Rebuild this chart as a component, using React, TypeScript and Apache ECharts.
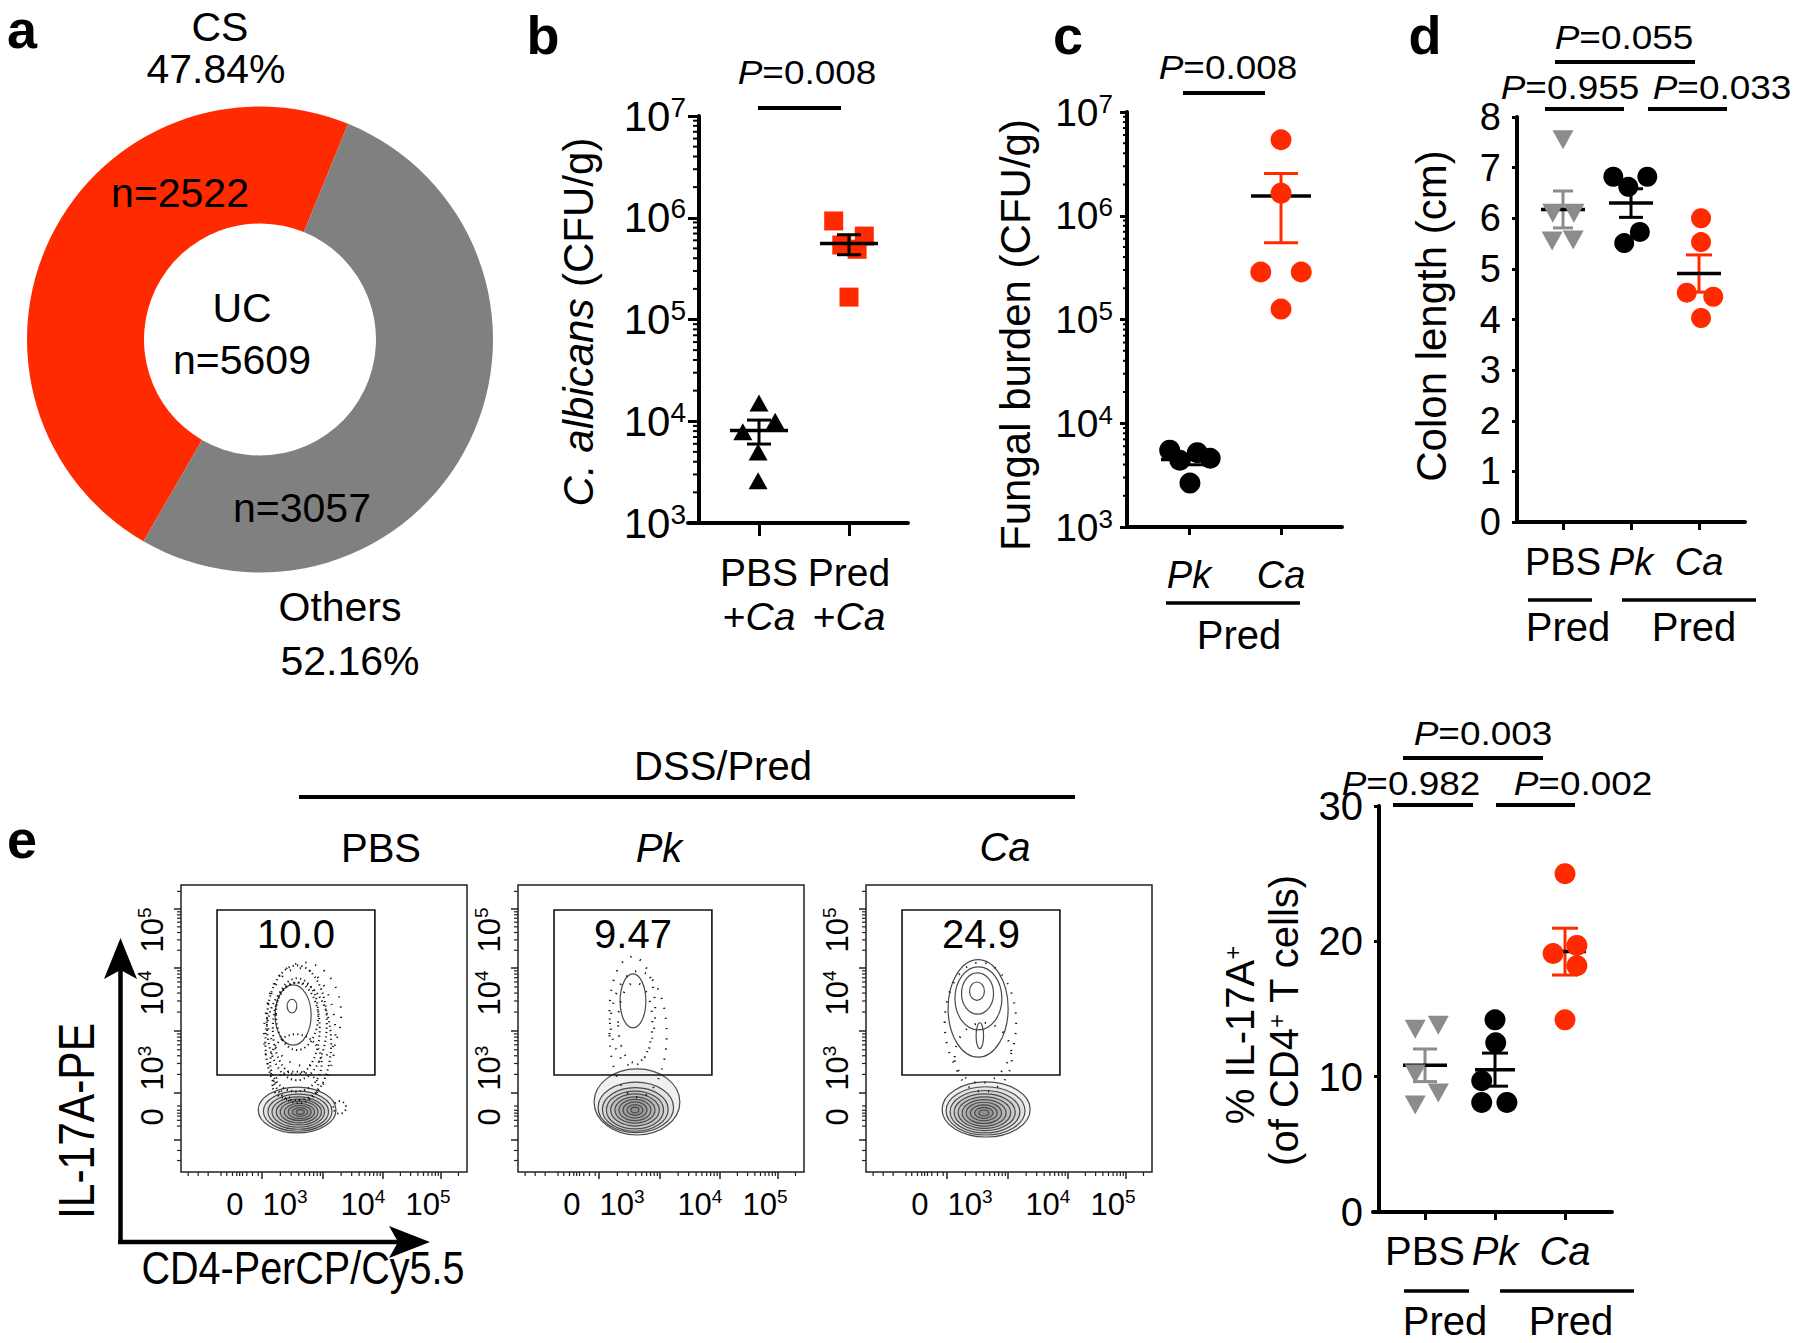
import React, { useEffect, useRef } from 'react';
import * as echarts from 'echarts';

const RED = '#ff2a00';
const PIE_GREY = '#808080';
const PT_GREY = '#8c8c8c';
const FONT = "'Liberation Sans', Arial, Helvetica, sans-serif";

// ---------- Panel a ----------
const donutNames = ['CS', 'Others'];
const donutPercent = [47.84, 52.16];
const donutCount = [2522, 3057];
const donutCenterName = 'UC';
const donutTotal = 5609;

// ---------- Panel b ----------
const bCategories = ['PBS', 'Pred'];
const bPBS = [15100, 10000, 7900, 5000, 2600];
const bPred = [930000, 660000, 540000, 490000, 166000];
const bJitterPBS = [0, 0.18, -0.18, -0.01, -0.01];
const bJitterPred = [-0.17, 0.17, -0.08, 0.09, 0];
const bP = ['0.008'];

// ---------- Panel c ----------
const cCategories = ['Pk', 'Ca'];
const cPk = [5500, 5200, 4600, 4400, 2650];
const cCa = [5400000, 1650000, 287000, 287000, 126000];
const cJitterPk = [-0.21, 0.09, 0.23, -0.1, 0.01];
const cJitterCa = [0, 0, -0.22, 0.22, 0];
const cP = ['0.008'];

// ---------- Panel d ----------
const dCategories = ['PBS', 'Pk', 'Ca'];
const dPBS = [7.55, 6.1, 6.1, 5.55, 5.57];
const dPk = [6.82, 6.82, 6.62, 5.73, 5.51];
const dCa = [6.0, 5.53, 4.53, 4.45, 4.03];
const dJitterPBS = [0, -0.15, 0.16, -0.16, 0.15];
const dJitterPk = [-0.26, 0.24, -0.04, 0.13, -0.1];
const dJitterCa = [0.03, 0.03, -0.18, 0.21, 0.03];
const dP = ['0.955', '0.033', '0.055']; // PBS vs Pk, Pk vs Ca, PBS vs Ca

// ---------- Panel e (summary) ----------
const eCategories = ['PBS', 'Pk', 'Ca'];
const ePBS = [13.5, 13.8, 10.2, 8.8, 7.9];
const ePk = [14.2, 12.5, 9.7, 8.1, 8.1];
const eCa = [25.0, 19.1, 19.7, 18.2, 14.2];
const eJitterPBS = [-0.14, 0.19, -0.14, 0.19, -0.14];
const eJitterPk = [0, 0.01, -0.19, -0.19, 0.17];
const eJitterCa = [0, -0.17, 0.17, 0.17, 0];
const eP = ['0.982', '0.002', '0.003'];

// ---------- Panel e (flow plots, display units 0-100) ----------
const flowSamples = ['PBS', 'Pk', 'Ca'];
const flowGatePercent = ['10.0', '9.47', '24.9'];
const flowGate = [12.6, 33.8, 67.8, 91.3]; // x1, y1, x2, y2
const flowTickLabels = ['0', '10^3', '10^4', '10^5'];
const flowXLabelAt = [18.8, 36.4, 63.6, 86.4];
const flowYLabelAt = [19.2, 36.2, 62.4, 84.3];
const flowXMajor = [28.3, 49.7, 70.6, 90.9];
const flowYMajor = [11.1, 27.5, 49.1, 71.1, 91.6];
// contour levels: cx, cy, rx, ry, kind (0 contour, 1 dense dots, 2 sparse dots, 3 shaded contour)
const flowContoursPBS = [
  [40.6, 21.6, 13.6, 8.0, 3], [40.8, 21.2, 12.0, 7.0, 3], [41.0, 21.0, 10.6, 6.1, 3],
  [41.0, 20.9, 9.2, 5.3, 3], [41.2, 20.9, 7.9, 4.5, 3], [41.3, 20.9, 6.6, 3.8, 3],
  [41.4, 20.9, 5.3, 3.0, 3], [41.5, 20.9, 4.0, 2.3, 3], [41.6, 20.9, 2.7, 1.5, 3],
  [41.7, 20.9, 1.4, 0.8, 3],
  [39.2, 54.7, 6.3, 10.5, 0], [38.8, 57.8, 1.7, 2.4, 0],
  [40.5, 52, 10.5, 20, 1], [40.3, 50, 8.2, 16, 1], [40.2, 38, 9.0, 10, 1],
  [41.0, 45, 11.5, 21, 1], [40.0, 30, 8, 5, 1], [40.6, 55, 7.4, 12.5, 1],
  [41.5, 48, 12.5, 23, 2], [43.0, 55, 13, 18, 2], [55.5, 22.5, 2.2, 2.2, 1],
];
const flowContoursPk = [
  [41.6, 24.4, 15.0, 11.5, 3], [41.2, 22.5, 13.2, 8.8, 3], [41.0, 21.8, 11.5, 7.6, 3],
  [40.9, 21.6, 10.0, 6.6, 3], [40.9, 21.6, 8.5, 5.6, 3], [40.9, 21.6, 7.0, 4.6, 3],
  [40.9, 21.6, 5.6, 3.7, 3], [40.9, 21.6, 4.2, 2.8, 3], [40.9, 21.6, 2.8, 1.9, 3],
  [40.9, 21.6, 1.4, 1.0, 3],
  [40.2, 59.6, 4.5, 9.4, 0],
  [40.0, 56, 8, 19, 2], [41.0, 52, 6, 14, 2], [42.0, 48, 10, 22, 2],
];
const flowContoursCa = [
  [42.0, 21.8, 15.4, 9.6, 3], [41.8, 21.3, 13.8, 8.4, 3], [41.6, 21.0, 12.2, 7.4, 3],
  [41.5, 20.8, 10.7, 6.4, 3], [41.4, 20.7, 9.2, 5.5, 3], [41.3, 20.6, 7.7, 4.6, 3],
  [41.2, 20.6, 6.2, 3.7, 3], [41.2, 20.6, 4.7, 2.8, 3], [41.2, 20.6, 3.2, 1.9, 3],
  [41.2, 20.6, 1.7, 1.0, 3],
  [39.2, 57.0, 10.5, 17, 0], [39.3, 60.5, 8.2, 11, 0], [39.0, 62.2, 5.6, 7.2, 0],
  [38.8, 63.0, 2.6, 3.2, 0], [39.8, 47.5, 1.3, 4.5, 0],
  [40.0, 52, 12.5, 21, 2], [41.0, 40, 10, 12, 2],
];
const flowContours = [flowContoursPBS, flowContoursPk, flowContoursCa];

// ---------- helpers ----------
const LOG_M = [2, 3, 4, 5, 6, 7, 8, 9];
const logMinor = (start: number, width: number) => LOG_M.map((m) => start + width * Math.log10(m));
const decadeMinor = [3, 4, 5, 6].flatMap((k) => LOG_M.map((m) => m * Math.pow(10, k)));
const flowXMinor = [
  2.5, 6, 9.5, 14, 16, 18, 19.5, 20.5, 21.5, 23, 25, 27,
  ...logMinor(28.3, 21.4), ...logMinor(49.7, 20.9), ...logMinor(70.6, 20.3), ...logMinor(90.9, 20.3),
].filter((v) => v >= 0 && v <= 100);
const flowYMinor = [
  4, 7.5, 16, 18, 19.5, 20.5, 21.5, 23,
  ...logMinor(27.5, 21.6), ...logMinor(49.1, 22), ...logMinor(71.1, 20.5), ...logMinor(91.6, 20.5),
].filter((v) => v >= 0 && v <= 100);

function stats(v: number[]) {
  const n = v.length;
  const mean = v.reduce((a, b) => a + b, 0) / n;
  const sd = Math.sqrt(v.reduce((a, b) => a + (b - mean) ** 2, 0) / (n - 1));
  return { mean, sem: sd / Math.sqrt(n) };
}

const supRich = (fs: number, sfs: number) => ({
  b: { fontSize: fs, lineHeight: fs + 4, fontFamily: FONT, color: '#000' },
  s: { fontSize: sfs, lineHeight: sfs, verticalAlign: 'top', fontFamily: FONT, color: '#000' },
});
const catRich = (fs: number, lh: number) => ({
  n: { fontSize: fs, lineHeight: lh, fontFamily: FONT, color: '#000' },
  i: { fontSize: fs, lineHeight: lh, fontFamily: FONT, fontStyle: 'italic', color: '#000' },
});
const logLabel = (v: number) => `{b|10}{s|${Math.round(Math.log10(v))}}`;
const italicNames = ['Pk', 'Ca'];
const catToken = (name: string) => (italicNames.includes(name) ? `{i|${name}}` : `{n|${name}}`);

function catX(gi: number, min: number, max: number, labels: string[], margin: number, fs: number, lh: number, tickLen: number) {
  const vals = labels.map((_, i) => i + 1);
  return {
    gridIndex: gi, type: 'value', min, max,
    axisLine: { show: true, onZero: false, lineStyle: { color: '#000', width: 4 } },
    axisTick: { show: true, customValues: vals, length: tickLen, lineStyle: { color: '#000', width: 3 } },
    axisLabel: {
      show: true, customValues: vals, margin, color: '#000',
      formatter: (v: number) => labels[Math.round(v) - 1] ?? '',
      rich: catRich(fs, lh),
    },
    splitLine: { show: false },
  };
}

type Grp = { x: number; vals: number[]; bar: string; meanHalf: number; capHalf: number };
function errorSeries(ax: number, grps: Grp[], z: number) {
  return {
    type: 'custom', xAxisIndex: ax, yAxisIndex: ax, z, silent: true, clip: false,
    data: grps.map((g) => { const s = stats(g.vals); return [g.x, s.mean, s.sem]; }),
    renderItem: (params: any, api: any) => {
      const g = grps[params.dataIndex];
      const x = api.value(0), m = api.value(1), s = api.value(2);
      const pm = api.coord([x, m]);
      const pu = api.coord([x, m + s]);
      const pl = api.coord([x, m - s]);
      const ln = (x1: number, y1: number, x2: number, y2: number, c: string, w: number) =>
        ({ type: 'line', shape: { x1, y1, x2, y2 }, style: { stroke: c, lineWidth: w } });
      return {
        type: 'group',
        children: [
          ln(pm[0], pu[1], pm[0], pl[1], g.bar, 3),
          ln(pm[0] - g.capHalf, pu[1], pm[0] + g.capHalf, pu[1], g.bar, 3),
          ln(pm[0] - g.capHalf, pl[1], pm[0] + g.capHalf, pl[1], g.bar, 3),
          ln(pm[0] - g.meanHalf, pm[1], pm[0] + g.meanHalf, pm[1], '#000', 3.5),
        ],
      };
    },
  };
}

function dots(ax: number, x: number, vals: number[], jit: number[], symbol: string, size: any, color: string, rotate = 0, z = 2) {
  return {
    type: 'scatter', xAxisIndex: ax, yAxisIndex: ax, z, silent: true,
    symbol, symbolSize: size, symbolRotate: rotate,
    itemStyle: { color, opacity: 1 },
    data: vals.map((v, i) => [x + jit[i], v]),
  };
}

function tickSeries(ax: number, pts: number[][], dir: 'left' | 'down', len: number, width: number, color = '#000') {
  return {
    type: 'custom', xAxisIndex: ax, yAxisIndex: ax, silent: true, clip: false, z: 5,
    data: pts,
    renderItem: (params: any, api: any) => {
      const p = api.coord([api.value(0), api.value(1)]);
      const shape = dir === 'left'
        ? { x1: p[0] - len, y1: p[1], x2: p[0], y2: p[1] }
        : { x1: p[0], y1: p[1], x2: p[0], y2: p[1] + len };
      return { type: 'line', shape, style: { stroke: color, lineWidth: width } };
    },
  };
}

const flowLabel = (positions: number[]) => (v: number) => {
  let best = 0;
  positions.forEach((p, i) => { if (Math.abs(p - v) < Math.abs(positions[best] - v)) best = i; });
  const lab = flowTickLabels[best];
  if (lab.includes('^')) { const [b, e] = lab.split('^'); return `{b|${b}}{s|${e}}`; }
  return `{b|${lab}}`;
};

// graphic helpers
const txt = (x: number, y: number, text: string, fontSize: number, extra: any = {}) => ({
  type: 'text', x, y, silent: true, z: 50,
  rotation: extra.rotation || 0, scaleX: extra.scaleX || 1, scaleY: extra.scaleY || 1,
  style: {
    text, fontSize, fontFamily: FONT, fill: '#000', align: 'center', verticalAlign: 'middle',
    fontWeight: extra.fontWeight || 'normal', fontStyle: extra.fontStyle || 'normal',
    rich: extra.rich,
  },
});
const richNI = (fs: number) => ({
  n: { fontSize: fs, fontFamily: FONT, fill: '#000' },
  i: { fontSize: fs, fontFamily: FONT, fontStyle: 'italic', fill: '#000' },
  s: { fontSize: Math.round(fs * 0.6), fontFamily: FONT, fill: '#000', verticalAlign: 'top', lineHeight: Math.round(fs * 0.6) },
});
const pText = (x: number, y: number, val: string) =>
  txt(x, y, `{i|P}{n|=${val}}`, 33, { rich: richNI(33), scaleX: 1.12 });
const hline = (x1: number, x2: number, y: number, w = 4) => ({
  type: 'line', silent: true, z: 50, shape: { x1, y1: y, x2, y2: y }, style: { stroke: '#000', lineWidth: w },
});

function buildOption(): any {
  const flowLefts = [181, 518, 866];
  const grid: any[] = [
    { left: 688, top: 116, width: 220, height: 407 },
    { left: 1127, top: 112, width: 215, height: 415 },
    { left: 1517, top: 117, width: 228, height: 405 },
    { left: 1373, top: 806, width: 239, height: 406 },
    ...flowLefts.map((l) => ({ left: l, top: 885, width: 286, height: 287, show: true, borderColor: '#222', borderWidth: 1.5, backgroundColor: 'transparent' })),
  ].map((g) => ({ outerBoundsMode: 'none', containLabel: false, ...g }));

  const bXMin = 0.2111, bXMax = 2.6556, bYAxisX = 1 - 60 / 90;
  const cXMin = 0.326, cXMax = 2.663;
  const dXMin = 0.3235, dXMax = 3.6765;
  const eXMin = 0.2571, eXMax = 3.6714;

  const xAxis: any[] = [
    catX(0, bXMin, bXMax, bCategories.map((c) => `{n|${c}}\n{n|+}{i|Ca}`), 27, 39, 44, 13),
    catX(1, cXMin, cXMax, cCategories.map(catToken), 27, 38, 42, 8),
    catX(2, dXMin, dXMax, dCategories.map(catToken), 19, 38, 42, 8),
    catX(3, eXMin, eXMax, eCategories.map(catToken), 17, 40, 44, 8),
    ...flowLefts.map((_, s) => ({
      gridIndex: 4 + s, type: 'value', min: 0, max: 100,
      axisLine: { show: false },
      axisTick: { show: true, customValues: flowXMajor, length: 7, lineStyle: { color: '#222', width: 1.5 } },
      axisLabel: { show: true, customValues: flowXLabelAt, margin: 15, formatter: flowLabel(flowXLabelAt), rich: supRich(31, 19) },
      splitLine: { show: false },
    })),
  ];

  const yAxis: any[] = [
    {
      gridIndex: 0, type: 'log', logBase: 10, min: 1e3, max: 1e7, offset: -11,
      axisLine: { show: true, onZero: false, lineStyle: { color: '#000', width: 4 } },
      axisTick: { show: true, length: 11, lineStyle: { color: '#000', width: 3 } },
      axisLabel: { show: true, margin: 13, formatter: logLabel, rich: supRich(42, 28) },
      splitLine: { show: false },
    },
    {
      gridIndex: 1, type: 'log', logBase: 10, min: 1e3, max: 1e7,
      axisLine: { show: true, onZero: false, lineStyle: { color: '#000', width: 4 } },
      axisTick: { show: true, length: 7, lineStyle: { color: '#000', width: 3 } },
      axisLabel: { show: true, margin: 14, formatter: logLabel, rich: supRich(39, 26) },
      splitLine: { show: false },
    },
    {
      gridIndex: 2, type: 'value', min: 0, max: 8, interval: 1,
      axisLine: { show: true, onZero: false, lineStyle: { color: '#000', width: 4 } },
      axisTick: { show: true, length: 5, lineStyle: { color: '#000', width: 3 } },
      axisLabel: { show: true, margin: 16, color: '#000', fontSize: 38, fontFamily: FONT },
      splitLine: { show: false },
    },
    {
      gridIndex: 3, type: 'value', min: 0, max: 30, interval: 10, offset: -6,
      axisLine: { show: true, onZero: false, lineStyle: { color: '#000', width: 4 } },
      axisTick: { show: true, length: 5, lineStyle: { color: '#000', width: 3 } },
      axisLabel: { show: true, margin: 16, color: '#000', fontSize: 40, fontFamily: FONT },
      splitLine: { show: false },
    },
    ...flowLefts.map((_, s) => ({
      gridIndex: 4 + s, type: 'value', min: 0, max: 100,
      axisLine: { show: false },
      axisTick: { show: true, customValues: flowYMajor, length: 7, lineStyle: { color: '#222', width: 1.5 } },
      axisLabel: { show: true, rotate: 90, customValues: flowYLabelAt, margin: 11, formatter: flowLabel(flowYLabelAt), rich: supRich(31, 19) },
      splitLine: { show: false },
    })),
  ];

  const series: any[] = [
    // panel a
    {
      type: 'pie', silent: true, center: [260, 339.5], radius: [116, 233], startAngle: 240, clockwise: true,
      label: { show: false }, labelLine: { show: false },
      data: donutNames.map((n, i) => ({ name: n, value: donutPercent[i], itemStyle: { color: i === 0 ? RED : PIE_GREY } })),
    },
    // panel b
    tickSeries(0, decadeMinor.map((v) => [bYAxisX, v]), 'left', 6, 2),
    dots(0, 1, bPBS, bJitterPBS, 'triangle', [19, 17], '#000'),
    dots(0, 2, bPred, bJitterPred, 'rect', 19, RED),
    errorSeries(0, [
      { x: 1, vals: bPBS, bar: '#000', meanHalf: 29, capHalf: 12 },
      { x: 2, vals: bPred, bar: '#000', meanHalf: 29, capHalf: 12 },
    ], 4),
    // panel c
    tickSeries(1, decadeMinor.map((v) => [cXMin, v]), 'left', 4, 2),
    errorSeries(1, [
      { x: 1, vals: cPk, bar: '#000', meanHalf: 28, capHalf: 16 },
      { x: 2, vals: cCa, bar: RED, meanHalf: 30, capHalf: 17 },
    ], 1),
    dots(1, 1, cPk, cJitterPk, 'circle', 21, '#000'),
    dots(1, 2, cCa, cJitterCa, 'circle', 21, RED),
    // panel d
    errorSeries(2, [
      { x: 1, vals: dPBS, bar: PT_GREY, meanHalf: 22, capHalf: 10 },
      { x: 2, vals: dPk, bar: '#000', meanHalf: 22, capHalf: 12 },
      { x: 3, vals: dCa, bar: RED, meanHalf: 22, capHalf: 13 },
    ], 1),
    dots(2, 1, dPBS, dJitterPBS, 'triangle', [21, 19], PT_GREY, 180),
    dots(2, 2, dPk, dJitterPk, 'circle', 20, '#000'),
    dots(2, 3, dCa, dJitterCa, 'circle', 20, RED),
    // panel e summary
    errorSeries(3, [
      { x: 1, vals: ePBS, bar: PT_GREY, meanHalf: 22, capHalf: 12 },
      { x: 2, vals: ePk, bar: '#000', meanHalf: 20, capHalf: 13 },
      { x: 3, vals: eCa, bar: RED, meanHalf: 21, capHalf: 13 },
    ], 1),
    dots(3, 1, ePBS, eJitterPBS, 'triangle', [21, 19], PT_GREY, 180),
    dots(3, 2, ePk, eJitterPk, 'circle', 21, '#000'),
    dots(3, 3, eCa, eJitterCa, 'circle', 21, RED),
  ];

  // flow plots
  flowSamples.forEach((_, s) => {
    const ax = 4 + s;
    series.push({
      type: 'custom', xAxisIndex: ax, yAxisIndex: ax, silent: true, clip: true, z: 2,
      data: flowContours[s],
      renderItem: (params: any, api: any) => {
        const c = api.coord([api.value(0), api.value(1)]);
        const sz = api.size([api.value(2), api.value(3)]);
        const kind = api.value(4);
        const dotted = kind === 1 || kind === 2;
        return {
          type: 'ellipse',
          shape: { cx: c[0], cy: c[1], rx: sz[0], ry: sz[1] },
          style: {
            fill: kind === 3 ? 'rgba(60,60,60,0.075)' : 'none',
            stroke: dotted ? '#111' : '#4a4a4a',
            lineWidth: dotted ? 2 : 1.2,
            lineDash: kind === 1 ? [1.2, 3.2] : kind === 2 ? [1.2, 9] : null,
          },
        };
      },
    });
    series.push({
      type: 'custom', xAxisIndex: ax, yAxisIndex: ax, silent: true, clip: false, z: 3,
      data: [flowGate],
      renderItem: (params: any, api: any) => {
        const tl = api.coord([api.value(0), api.value(3)]);
        const br = api.coord([api.value(2), api.value(1)]);
        return {
          type: 'group',
          children: [
            { type: 'rect', shape: { x: tl[0], y: tl[1], width: br[0] - tl[0], height: br[1] - tl[1] }, style: { fill: 'none', stroke: '#111', lineWidth: 1.6 } },
            { type: 'text', x: (tl[0] + br[0]) / 2, y: tl[1] + 24, style: { text: flowGatePercent[s], fontSize: 40, fontFamily: FONT, fill: '#000', align: 'center', verticalAlign: 'middle' } },
          ],
        };
      },
    });
    series.push(tickSeries(ax, flowXMinor.map((v) => [v, 0]), 'down', 4, 1.2, '#222'));
    series.push(tickSeries(ax, flowYMinor.map((v) => [0, v]), 'left', 4, 1.2, '#222'));
  });

  const R90 = Math.PI / 2;
  const graphic: any[] = [
    // panel letters
    txt(22, 29, 'a', 54, { fontWeight: 'bold' }),
    txt(543, 35, 'b', 54, { fontWeight: 'bold' }),
    txt(1068, 35, 'c', 54, { fontWeight: 'bold' }),
    txt(1425, 35, 'd', 54, { fontWeight: 'bold' }),
    txt(22, 839, 'e', 54, { fontWeight: 'bold' }),
    // panel a labels
    txt(220, 27, donutNames[0], 41),
    txt(216, 69, `${donutPercent[0].toFixed(2)}%`, 41),
    txt(180, 193, `n=${donutCount[0]}`, 41),
    txt(242, 308, donutCenterName, 41),
    txt(242, 360, `n=${donutTotal}`, 41),
    txt(302, 508, `n=${donutCount[1]}`, 41),
    txt(340, 607, donutNames[1], 41),
    txt(350, 661, `${donutPercent[1].toFixed(2)}%`, 41),
    // panel b
    txt(578, 322, '{i|C. albicans} {n|(CFU/g)}', 42, { rotation: R90, rich: richNI(42) }),
    pText(807, 72, bP[0]), hline(758, 841, 108),
    // panel c
    txt(1015, 335, 'Fungal burden (CFU/g)', 42, { rotation: R90 }),
    pText(1228, 67, cP[0]), hline(1183, 1265, 93),
    hline(1166, 1300, 603, 3.5), txt(1239, 635, 'Pred', 40),
    // panel d
    txt(1431, 316, 'Colon length (cm)', 42, { rotation: R90 }),
    pText(1624, 37, dP[2]), hline(1555, 1695, 62),
    pText(1570, 87, dP[0]), hline(1545, 1624, 109),
    pText(1722, 87, dP[1]), hline(1648, 1727, 109),
    hline(1528, 1592, 600, 3.5), hline(1622, 1756, 600, 3.5),
    txt(1568, 627, 'Pred', 40), txt(1694, 627, 'Pred', 40),
    // panel e summary
    txt(1240, 1035, '{n|% IL-17A}{s|+}', 40, { rotation: R90, rich: richNI(40) }),
    txt(1284, 1020, '{n|(of CD4}{s|+}{n| T cells)}', 40, { rotation: R90, rich: richNI(40) }),
    pText(1483, 733, eP[2]), hline(1403, 1543, 758),
    pText(1411, 783, eP[0]), hline(1393, 1473, 805),
    pText(1583, 783, eP[1]), hline(1496, 1575, 805),
    hline(1404, 1469, 1291, 3.5), hline(1500, 1634, 1291, 3.5),
    txt(1445, 1321, 'Pred', 40), txt(1571, 1321, 'Pred', 40),
    // panel e flow
    txt(723, 766, 'DSS/Pred', 40), hline(299, 1075, 797, 4),
    txt(381, 848, flowSamples[0], 40),
    txt(659, 848, flowSamples[1], 40, { fontStyle: 'italic' }),
    txt(1005, 847, flowSamples[2], 40, { fontStyle: 'italic' }),
    txt(77, 1121, 'IL-17A-PE', 50, { rotation: R90, scaleX: 0.85 }),
    txt(303, 1268, 'CD4-PerCP/Cy5.5', 46, { scaleX: 0.86 }),
    { type: 'line', silent: true, shape: { x1: 120.5, y1: 1243, x2: 120.5, y2: 968 }, style: { stroke: '#000', lineWidth: 4.5 } },
    { type: 'polygon', silent: true, shape: { points: [[120.5, 938], [137, 979], [120.5, 970], [104, 979]] }, style: { fill: '#000' } },
    { type: 'line', silent: true, shape: { x1: 118, y1: 1242, x2: 400, y2: 1242 }, style: { stroke: '#000', lineWidth: 4.5 } },
    { type: 'polygon', silent: true, shape: { points: [[430, 1242], [389, 1258], [398, 1242], [389, 1226]] }, style: { fill: '#000' } },
  ];

  return {
    animation: false,
    backgroundColor: '#fff',
    textStyle: { fontFamily: FONT, color: '#000' },
    grid, xAxis, yAxis, series, graphic,
  };
}

export default function App() {
  const ref = useRef<HTMLDivElement>(null);
  useEffect(() => {
    document.body.style.margin = '0';
    const chart = echarts.init(ref.current!, null, { renderer: 'svg' });
    chart.setOption(buildOption());
    return () => chart.dispose();
  }, []);
  return (
    <div
      ref={ref}
      style={{ position: 'absolute', left: 0, top: 0, width: 1800, height: 1343, background: '#fff' }}
    />
  );
}
